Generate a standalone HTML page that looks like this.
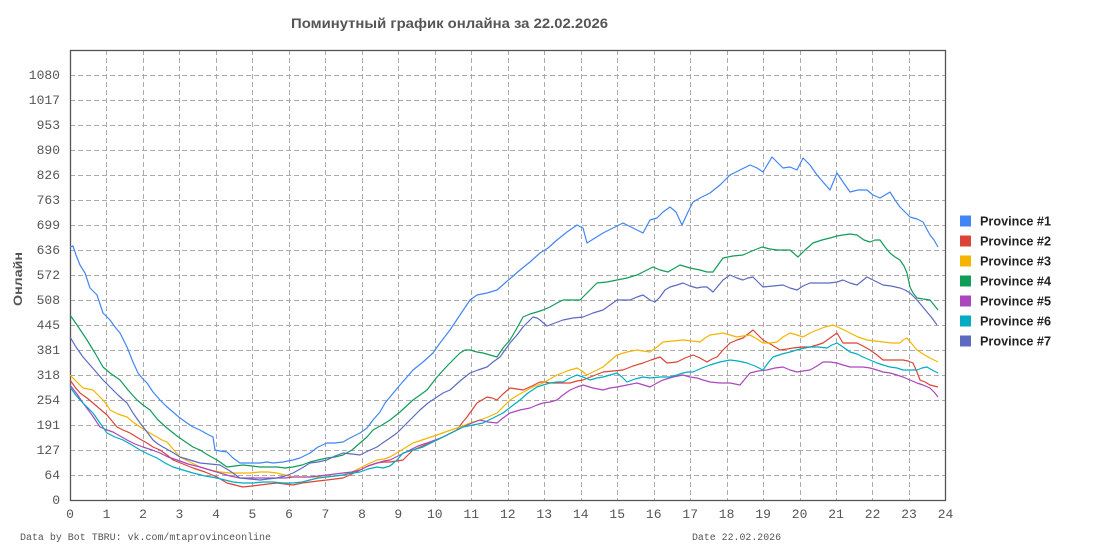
<!DOCTYPE html>
<html><head><meta charset="utf-8"><style>
html,body{margin:0;padding:0;background:#fff;}
svg{display:block;}
.tk{font-family:"Liberation Mono",monospace;font-size:13px;fill:#555;}
.ft{font-family:"Liberation Mono",monospace;font-size:10px;fill:#555;}
.lg{font-family:"Liberation Sans",sans-serif;font-size:13px;font-weight:bold;fill:#222;}
</style></head><body>
<svg width="1095" height="550" viewBox="0 0 1095 550" xmlns="http://www.w3.org/2000/svg">
<rect width="1095" height="550" fill="#fff"/>
<text x="449.5" y="28" text-anchor="middle" textLength="317" lengthAdjust="spacingAndGlyphs" style="font-family:'Liberation Sans',sans-serif;font-size:14px;font-weight:bold;fill:#555;">Поминутный график онлайна за 22.02.2026</text>
<g stroke="#ababab" stroke-width="1" stroke-dasharray="5,3" fill="none">
<path d="M70 475.5H945M70 450.5H945M70 425.5H945M70 400.5H945M70 375.5H945M70 350.5H945M70 325.5H945M70 300.5H945M70 275.5H945M70 250.5H945M70 225.5H945M70 200.5H945M70 175.5H945M70 150.5H945M70 125.5H945M70 100.5H945M70 75.5H945"/>
<path d="M106.5 50V500M143.5 50V500M179.5 50V500M216.5 50V500M252.5 50V500M289.5 50V500M325.5 50V500M362.5 50V500M398.5 50V500M435.5 50V500M471.5 50V500M508.5 50V500M544.5 50V500M581.5 50V500M617.5 50V500M654.5 50V500M690.5 50V500M727.5 50V500M763.5 50V500M800.5 50V500M836.5 50V500M872.5 50V500M909.5 50V500"/>
</g>
<rect x="70.5" y="50.5" width="875" height="450" fill="none" stroke="#555" stroke-width="1.3"/>
<g class="tk" text-anchor="end">
<text x="60" y="504">0</text><text x="60" y="479">64</text><text x="60" y="454">127</text><text x="60" y="429">191</text><text x="60" y="404">254</text><text x="60" y="379">318</text><text x="60" y="354">381</text><text x="60" y="329">445</text><text x="60" y="304">508</text><text x="60" y="279">572</text><text x="60" y="254">636</text><text x="60" y="229">699</text><text x="60" y="204">763</text><text x="60" y="179">826</text><text x="60" y="154">890</text><text x="60" y="129">953</text><text x="60" y="104">1017</text><text x="60" y="79">1080</text>
</g>
<g class="tk" text-anchor="middle">
<text x="70" y="518">0</text><text x="106.5" y="518">1</text><text x="143" y="518">2</text><text x="179.4" y="518">3</text><text x="216" y="518">4</text><text x="252.4" y="518">5</text><text x="289" y="518">6</text><text x="325.4" y="518">7</text><text x="362" y="518">8</text><text x="398.3" y="518">9</text><text x="434.8" y="518">10</text><text x="471.3" y="518">11</text><text x="507.8" y="518">12</text><text x="544.2" y="518">13</text><text x="580.7" y="518">14</text><text x="617.2" y="518">15</text><text x="653.7" y="518">16</text><text x="690.2" y="518">17</text><text x="726.6" y="518">18</text><text x="763.1" y="518">19</text><text x="799.6" y="518">20</text><text x="836.1" y="518">21</text><text x="872.6" y="518">22</text><text x="909" y="518">23</text><text x="945.5" y="518">24</text>
</g>
<text transform="translate(22,279) rotate(-90)" text-anchor="middle" textLength="54" lengthAdjust="spacingAndGlyphs" style="font-family:'Liberation Sans',sans-serif;font-size:12px;font-weight:bold;fill:#555;">Онлайн</text>
<text class="ft" x="20" y="540" textLength="251" lengthAdjust="spacingAndGlyphs">Data by Bot TBRU: vk.com/mtaprovinceonline</text>
<text class="ft" x="692" y="540" textLength="89" lengthAdjust="spacingAndGlyphs">Date 22.02.2026</text>
<g fill="none" stroke-width="1.2" stroke-linejoin="round">
<polyline stroke="#4285F4" points="70,247 73,246 76,255 80,265 85,273 90,288 97,295 103,313 110,320 115,327 120,333 127,347 133,362 138,373 142,378 147,383 153,392 160,400 166,406 173,412 180,418 187,423 193,427 200,430 207,434 213,437 215,450 220,451 227,452 233,458 240,463 250,463 260,463 267,462 273,463 283,462 293,460 300,458 310,453 318,447 327,443 335,443 343,442 350,438 360,433 367,428 373,420 380,412 385,403 390,397 400,385 407,377 413,370 423,362 433,353 440,343 450,330 460,315 470,300 477,295 487,293 497,290 505,283 512,277 520,270 530,262 540,253 548,248 557,240 567,232 577,225 583,228 587,243 595,238 603,233 613,228 623,223 633,228 643,233 650,220 657,218 663,212 670,207 676,212 682,225 688,212 693,202 700,198 710,193 720,185 730,175 740,170 750,165 757,168 763,172 772,157 778,163 783,168 790,167 797,170 803,158 810,165 817,175 823,182 830,190 837,173 843,182 850,192 858,190 867,190 873,195 880,198 890,192 895,200 900,207 905,212 910,217 917,219 923,222 930,235 934,240 938,247"/>
<polyline stroke="#DB4437" points="70,380 75,387 80,393 87,398 93,403 100,409 107,415 112,421 117,427 123,430 130,433 138,438 147,443 153,447 160,450 167,455 173,460 183,464 193,468 205,472 217,477 222,480 227,483 235,485 243,487 252,486 260,485 268,484 277,483 285,484 293,485 302,483 310,482 318,481 327,480 335,479 343,478 352,474 360,470 368,466 377,463 384,462 390,462 397,461 403,460 408,455 413,450 425,445 437,440 447,435 457,430 462,423 467,417 472,410 477,403 482,400 487,397 492,398 497,400 503,394 510,388 517,389 523,390 532,386 540,382 545,382 550,383 560,383 570,383 577,381 583,380 593,376 603,372 613,371 623,370 633,366 643,363 651,360 660,357 667,363 677,362 685,358 693,355 700,358 707,362 712,359 717,357 723,350 730,343 737,340 743,338 748,334 753,330 758,335 763,340 772,345 780,350 787,349 793,348 802,347 810,347 817,345 823,343 830,338 837,333 840,338 843,343 850,343 857,343 863,346 870,350 877,355 883,360 893,360 903,360 908,361 913,363 917,372 920,380 925,382 930,385 934,386 938,387"/>
<polyline stroke="#F4B400" points="70,375 76,381 83,388 88,389 93,390 98,395 103,400 107,405 110,410 118,414 127,417 133,422 140,427 148,432 157,437 162,440 167,442 173,449 180,457 190,462 200,467 210,470 220,472 230,473 240,473 250,473 260,472 268,472 277,473 285,475 293,477 302,477 310,477 318,477 327,477 335,476 343,475 352,472 360,468 368,464 377,460 384,459 390,457 400,451 413,443 425,439 437,435 448,431 460,427 470,423 480,420 488,417 497,413 503,407 510,400 518,395 527,390 535,386 543,383 550,379 557,375 567,371 577,368 582,371 587,375 595,371 603,367 610,361 617,355 627,352 637,350 643,351 650,352 657,347 663,342 673,341 683,340 692,341 700,342 705,338 710,335 717,334 723,333 730,335 737,337 743,336 750,335 757,339 763,343 770,343 777,342 783,337 790,333 797,335 803,337 810,333 817,330 825,327 833,325 842,329 850,333 858,337 867,340 875,341 883,342 892,343 900,343 903,340 907,338 912,344 917,350 923,354 930,358 934,360 938,362"/>
<polyline stroke="#0F9D58" points="70,315 77,325 87,340 95,353 103,367 110,373 120,380 128,390 137,400 143,405 150,410 158,420 167,428 177,436 187,443 193,447 200,450 208,455 217,460 227,467 235,466 243,465 252,466 260,467 268,467 277,467 285,468 293,467 302,465 310,462 318,460 327,458 335,457 343,455 352,450 360,443 367,437 373,430 382,425 390,420 400,412 413,400 420,395 427,390 437,377 448,365 460,353 465,350 470,350 477,352 483,353 490,355 497,357 503,348 510,340 517,328 523,317 530,314 537,312 543,310 550,307 557,303 563,300 572,300 580,300 588,292 597,283 607,282 617,280 627,278 637,275 645,271 653,267 660,270 668,272 680,265 690,268 700,270 707,272 713,272 718,265 723,258 733,256 743,255 752,251 762,247 770,249 777,250 783,250 790,250 798,257 805,250 813,243 822,240 830,238 837,236 843,235 850,234 857,235 864,240 870,242 875,240 880,240 885,247 890,253 895,257 900,260 904,266 907,273 910,287 913,293 917,298 923,299 930,300 934,305 938,310"/>
<polyline stroke="#AB47BC" points="70,385 77,394 83,403 92,415 100,427 107,430 113,432 120,436 127,440 135,444 143,447 152,450 160,453 168,457 177,460 188,464 200,467 210,470 220,473 230,476 240,478 250,478 260,478 268,478 277,478 285,478 293,477 302,477 310,477 318,476 327,475 335,474 343,473 352,472 360,470 368,466 377,463 384,461 390,460 400,455 410,450 418,446 427,443 435,440 443,437 453,432 463,427 472,423 480,420 488,422 497,423 503,418 510,413 520,410 530,408 537,405 543,403 550,402 557,400 563,395 570,390 577,387 583,385 593,388 603,390 610,388 617,387 627,385 637,383 647,386 650,387 657,383 663,380 673,377 683,375 690,377 697,378 703,380 710,382 720,383 730,383 735,384 740,385 745,379 750,373 758,371 767,370 775,368 783,367 790,370 797,372 803,371 810,370 817,366 823,362 830,362 837,363 843,365 850,367 857,367 863,367 870,368 877,370 883,372 890,373 897,375 903,377 910,380 917,383 923,385 930,388 934,392 938,397"/>
<polyline stroke="#00ACC1" points="70,387 75,394 80,400 87,407 93,413 100,423 107,433 115,437 123,440 132,445 140,450 148,454 157,458 165,463 173,467 183,470 193,473 205,476 217,478 225,480 233,482 243,483 253,483 263,482 273,482 283,483 293,483 302,482 310,480 318,478 327,477 335,476 343,475 352,473 360,472 368,469 377,467 383,468 390,466 397,460 403,453 413,450 423,447 433,442 443,437 453,432 463,427 473,425 483,423 493,418 503,413 512,406 520,400 528,393 537,387 543,385 550,383 557,382 563,382 570,378 577,375 583,377 590,380 597,378 603,377 610,375 617,373 622,377 627,382 635,379 643,377 650,378 660,377 670,377 677,375 683,373 688,372 693,372 702,368 710,365 720,362 730,360 738,361 747,363 755,366 763,370 768,363 773,357 782,354 790,352 800,349 810,347 818,347 827,348 832,345 837,343 843,347 850,352 857,354 863,357 870,360 877,363 883,365 890,367 897,368 903,370 910,370 917,370 922,368 927,367 932,370 938,373"/>
<polyline stroke="#5C6BC0" points="70,337 76,347 83,357 90,365 97,373 103,380 110,387 118,395 127,403 133,413 140,423 147,432 153,440 158,444 163,447 172,452 180,457 190,460 200,463 210,464 220,465 230,471 240,478 250,479 260,480 268,479 277,478 285,476 293,473 302,468 310,463 318,462 327,460 335,456 343,453 352,454 360,455 368,451 377,447 384,442 390,438 397,433 403,427 412,418 420,410 428,403 437,397 443,393 450,390 460,381 470,373 478,370 487,367 493,362 500,357 505,350 510,343 517,335 523,327 528,322 533,317 537,318 540,320 547,326 555,323 563,320 573,318 583,317 593,313 603,310 610,305 617,300 623,300 630,300 637,297 643,295 650,300 655,302 660,297 665,290 670,287 677,285 683,283 690,286 697,288 702,287 707,287 713,292 718,286 723,280 730,275 737,278 743,280 748,278 753,277 758,282 763,287 773,286 783,285 790,288 797,290 803,286 810,283 820,283 830,283 837,282 843,280 850,283 857,285 862,281 867,277 875,281 883,285 891,286 900,288 905,290 910,293 917,300 922,306 927,312 932,318 937,325"/>
</g>
<g>
<rect x="960" y="215.5" width="11" height="11" fill="#4285F4"/><text class="lg" x="980" y="225.5" textLength="71" lengthAdjust="spacingAndGlyphs">Province #1</text>
<rect x="960" y="235.5" width="11" height="11" fill="#DB4437"/><text class="lg" x="980" y="245.5" textLength="71" lengthAdjust="spacingAndGlyphs">Province #2</text>
<rect x="960" y="255.5" width="11" height="11" fill="#F4B400"/><text class="lg" x="980" y="265.5" textLength="71" lengthAdjust="spacingAndGlyphs">Province #3</text>
<rect x="960" y="275.5" width="11" height="11" fill="#0F9D58"/><text class="lg" x="980" y="285.5" textLength="71" lengthAdjust="spacingAndGlyphs">Province #4</text>
<rect x="960" y="295.5" width="11" height="11" fill="#AB47BC"/><text class="lg" x="980" y="305.5" textLength="71" lengthAdjust="spacingAndGlyphs">Province #5</text>
<rect x="960" y="315.5" width="11" height="11" fill="#00ACC1"/><text class="lg" x="980" y="325.5" textLength="71" lengthAdjust="spacingAndGlyphs">Province #6</text>
<rect x="960" y="335.5" width="11" height="11" fill="#5C6BC0"/><text class="lg" x="980" y="345.5" textLength="71" lengthAdjust="spacingAndGlyphs">Province #7</text>
</g>
</svg>
</body></html>
